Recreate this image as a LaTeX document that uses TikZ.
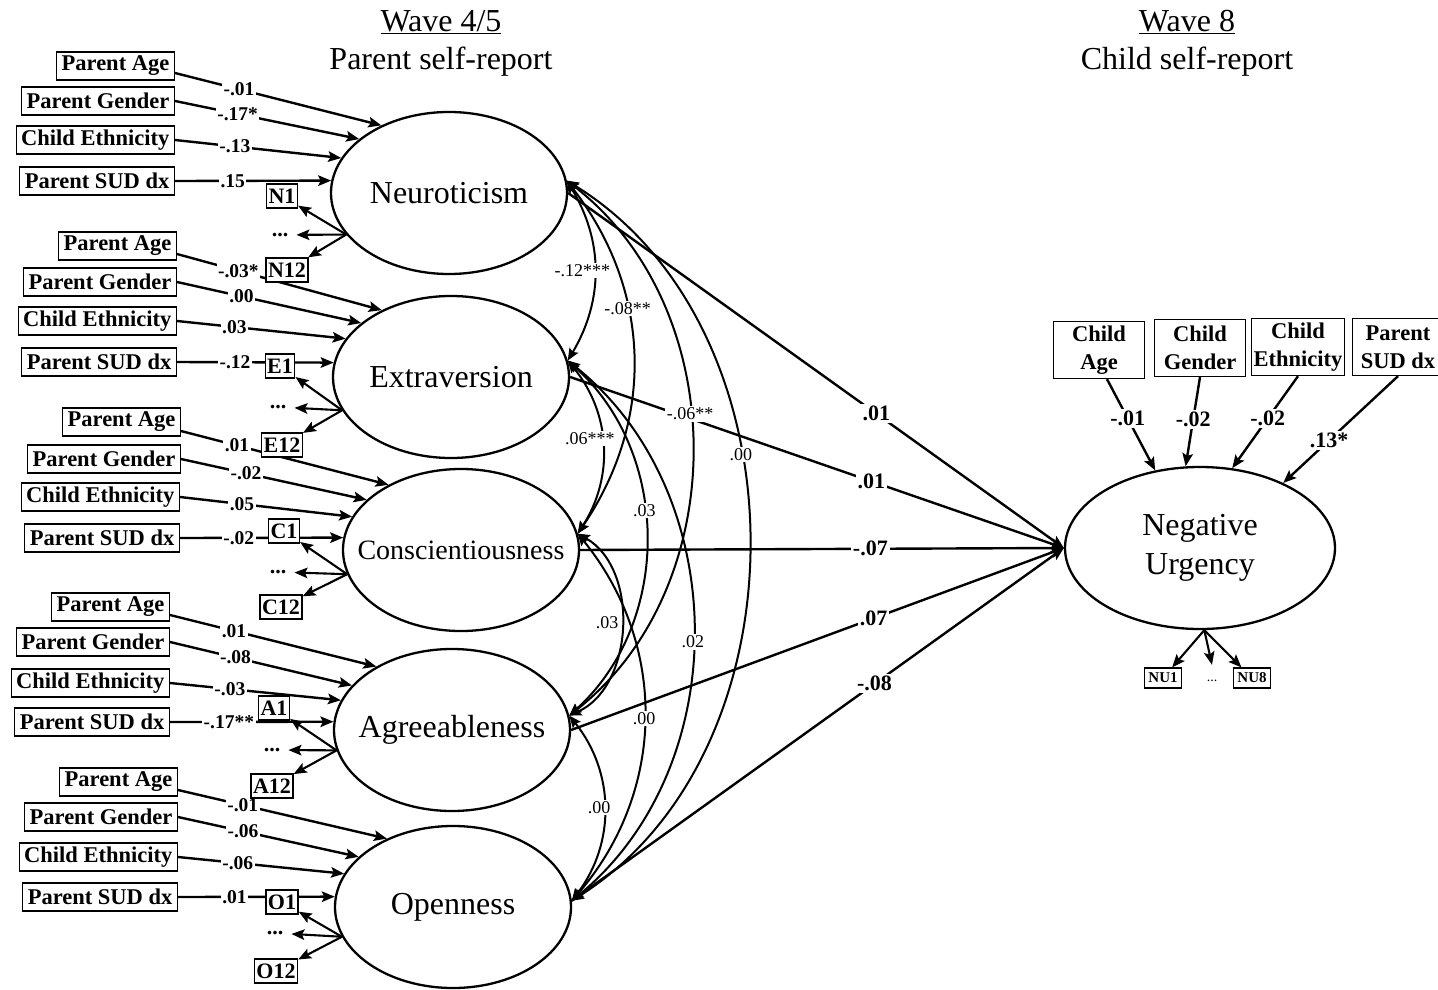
\documentclass[tikz,border=0pt]{standalone}
\usepackage{fontspec}
\setmainfont{Liberation Serif}
\usetikzlibrary{shapes.geometric,arrows.meta}
\begin{document}
\begin{tikzpicture}[x=1pt,y=-1pt,
  >={Stealth[length=13pt,width=10.5pt,inset=2.5pt]},
  trait/.style={ellipse,draw,line width=2.3pt,inner sep=0pt,minimum width=236pt,minimum height=162pt,font=\fontsize{32}{36}\selectfont},
  cov/.style={draw,line width=1.3pt,fill=white,anchor=east,inner xsep=5pt,inner ysep=0pt,minimum height=28pt,font=\fontsize{22.5}{26}\selectfont\bfseries},
  ind/.style={draw,line width=1.3pt,fill=white,inner xsep=2pt,inner ysep=0pt,minimum height=24pt,font=\fontsize{22}{24}\selectfont\bfseries},
  dotn/.style={inner xsep=8pt,inner ysep=2pt,font=\fontsize{22}{24}\selectfont\bfseries},
  reg/.style={line width=2.4pt,->},
  ireg/.style={line width=2.1pt,->},
  plab/.style={fill=white,inner sep=1.5pt,font=\fontsize{19.5}{22}\selectfont\bfseries},
  nlab/.style={fill=white,inner sep=2pt,font=\fontsize{22}{24}\selectfont\bfseries},
  cv/.style={line width=2pt,{Stealth[length=12pt,width=10pt,inset=2pt]}-{Stealth[length=12pt,width=10pt,inset=2pt]}},
  alab/.style={fill=white,inner sep=1.5pt,font=\fontsize{18}{20}\selectfont},
  cbox/.style={draw,line width=1.3pt,align=center,inner xsep=2pt,inner ysep=0pt,minimum width=91pt,minimum height=57pt,font=\fontsize{22.5}{28}\selectfont\bfseries},
  nind/.style={draw,line width=1.2pt,inner xsep=4pt,inner ysep=0pt,minimum height=20pt,font=\fontsize{15}{17}\selectfont\bfseries},
  head/.style={font=\fontsize{32}{36}\selectfont}
]
\useasboundingbox (0,0) rectangle (1438,990);
\fill[white] (0,0) rectangle (1438,990);

% column headings
\node[head] (w45) at (441,22) {\underline{Wave 4/5}};
\node[head] (p45) at (441,62) {Parent self-report};
\node[head] (w8) at (1187,22) {\underline{Wave 8}};
\node[head] (c8) at (1187,62) {Child self-report};

% latent traits
\node[trait] (N) at (449,193) {\makebox[0pt]{Neuroticism}};
\node[trait] (E) at (451,377) {\makebox[0pt]{Extraversion}};
\node[trait,font=\fontsize{28}{32}\selectfont] (C) at (461,550) {\makebox[0pt]{Conscientiousness}};
\node[trait] (A) at (452,730) {\makebox[0pt]{Agreeableness}};
\node[trait] (O) at (453,907) {\makebox[0pt]{Openness}};
\node[trait,minimum width=270pt,align=center,font=\fontsize{32}{39}\selectfont] (NU) at (1200,548) {Negative\\Urgency};

% covariates of each trait
\node[cov] (nPA) at (175,66) {Parent Age};
\node[cov] (nPG) at (175,101) {Parent Gender};
\node[cov] (nCE) at (175,140) {Child Ethnicity};
\node[cov] (nSD) at (175,181) {Parent SUD dx};

\node[cov] (ePA) at (177,246) {Parent Age};
\node[cov] (ePG) at (177,282) {Parent Gender};
\node[cov] (eCE) at (177,321) {Child Ethnicity};
\node[cov] (eSD) at (177,362) {Parent SUD dx};

\node[cov] (cPA) at (181,422) {Parent Age};
\node[cov] (cPG) at (181,459) {Parent Gender};
\node[cov] (cCE) at (180,497) {Child Ethnicity};
\node[cov] (cSD) at (180,538) {Parent SUD dx};

\node[cov] (aPA) at (170,607) {Parent Age};
\node[cov] (aPG) at (170,642) {Parent Gender};
\node[cov] (aCE) at (170,683) {Child Ethnicity};
\node[cov] (aSD) at (170,722) {Parent SUD dx};

\node[cov] (oPA) at (178,782) {Parent Age};
\node[cov] (oPG) at (178,817) {Parent Gender};
\node[cov] (oCE) at (178,857) {Child Ethnicity};
\node[cov] (oSD) at (178,897) {Parent SUD dx};

% covariate paths
\draw[reg] ([yshift=-7pt]nPA.east) -- node[plab,pos=0.31]{-.01} (N.135);
\draw[reg] (nPG.east) -- node[plab,pos=0.34]{-.17*} (N.149);
\draw[reg] (nCE.east) -- node[plab,pos=0.36]{-.13} (N.162);
\draw[reg] (nSD.east) -- node[plab,pos=0.37]{.15} (N.174);

\draw[reg] ([yshift=-8pt]ePA.east) -- node[plab,pos=0.30]{-.03*} (E.136);
\draw[reg] (ePG.east) -- node[plab,pos=0.35]{.00} (E.149);
\draw[reg] (eCE.east) -- node[plab,pos=0.34]{.03} (E.160);
\draw[reg] (eSD.east) -- node[plab,pos=0.37]{-.12} (E.173);

\draw[reg] ([yshift=-9pt]cPA.east) -- node[plab,pos=0.27]{.01} (C.138);
\draw[reg] (cPG.east) -- node[plab,pos=0.35]{-.02} (C.152);
\draw[reg] (cCE.east) -- node[plab,pos=0.36]{.05} (C.163);
\draw[reg] (cSD.east) -- node[plab,pos=0.36]{-.02} (C.174);

\draw[reg] ([yshift=-8pt]aPA.east) -- node[plab,pos=0.31]{.01} (A.140);
\draw[reg] (aPG.east) -- node[plab,pos=0.36]{-.08} (A.156);
\draw[reg] (aCE.east) -- node[plab,pos=0.35]{-.03} (A.165);
\draw[reg] (aSD.east) -- node[plab,pos=0.36]{-.17**} (A.176);

\draw[reg] ([yshift=-8pt]oPA.east) -- node[plab,pos=0.31]{-.01} (O.134);
\draw[reg] (oPG.east) -- node[plab,pos=0.36]{-.06} (O.152);
\draw[reg] (oCE.east) -- node[plab,pos=0.36]{-.06} (O.163);
\draw[reg] (oSD.east) -- node[plab,pos=0.36]{.01} (O.175);

% indicators of each trait
\node[ind] (N1) at (282,196) {N1};
\node[dotn] (Nd) at (280,235) {...};
\node[ind] (N12) at (287,270) {N12};
\node[ind] (E1) at (280,366) {E1};
\node[dotn] (Ed) at (278,407) {...};
\node[ind] (E12) at (282,445) {E12};
\node[ind] (C1) at (284,531) {C1};
\node[dotn] (Cd) at (278,572) {...};
\node[ind] (C12) at (281,607) {C12};
\node[ind] (A1) at (274,708) {A1};
\node[dotn] (Ad) at (272,750) {...};
\node[ind] (A12) at (272,786) {A12};
\node[ind] (O1) at (282,902) {O1};
\node[dotn] (Od) at (275,933) {...};
\node[ind] (O12) at (276,971) {O12};

\coordinate (No) at (N.202);
\coordinate (Eo) at (E.197);
\coordinate (Co) at (C.192);
\coordinate (Ao) at (A.190);
\coordinate (Oo) at (O.195);
\foreach \t in {N,E,C,A,O}{
  \draw[ireg] (\t o) -- (\t 1);
  \draw[ireg] (\t o) -- (\t d);
  \draw[ireg] (\t o) -- (\t 12);
}

% regressions on negative urgency
\draw[reg] (N.east) -- node[nlab,pos=0.622]{.01} (NU.west);
\draw[reg] (E.east) -- node[nlab,pos=0.61]{.01} (NU.west);
\draw[reg] (C.east) -- node[nlab,pos=0.60]{-.07} (NU.west);
\draw[reg] (A.east) -- node[nlab,pos=0.614]{.07} (NU.west);
\draw[reg] (O.3) -- node[nlab,pos=0.615]{-.08} (NU.west);

% trait covariances
\draw[cv] (N.6) to[bend left=31] node[alab,pos=0.5,xshift=-12pt]{-.12***} (E.8);
\draw[cv] (N.6) to[bend left=36] node[alab,pos=0.37]{-.08**} (C.8);
\draw[cv] (N.6) to[bend left=52] node[alab,pos=0.445]{-.06**} (A.7);
\draw[cv] (N.6) to[bend left=58] node[alab,pos=0.40]{.00} (O.3);
\draw[cv] (E.8) to[bend left=36] node[alab,pos=0.46,xshift=-12pt]{.06***} (C.8);
\draw[cv] (E.8) to[bend left=48] node[alab,pos=0.43]{.03} (A.7);
\draw[cv] (E.8) to[bend left=51] node[alab,pos=0.52]{.02} (O.3);
\draw[cv] (C.8) to[bend left=63] node[alab,pos=0.48,xshift=-14pt]{.03} (A.7);
\draw[cv] (C.8) to[bend left=40] node[alab,pos=0.5]{.00} (O.3);
\draw[cv] (A.7) to[bend left=38] node[alab,pos=0.5,xshift=-5pt]{.00} (O.3);

% wave 8 covariates
\node[cbox] (kA) at (1099,350) {Child\\Age};
\node[cbox] (kG) at (1200,348) {Child\\Gender};
\node[cbox] (kE) at (1298,347) {Child\\Ethnicity};
\node[cbox] (kS) at (1398,347) {Parent\\SUD dx};
\draw[reg] ([xshift=8pt]kA.south) -- node[nlab,pos=0.43]{-.01} (NU.120);
\draw[reg] (kG.south) -- node[nlab,pos=0.47]{-.02} (NU.100);
\draw[reg] (kE.south) -- node[nlab,pos=0.46]{-.02} (NU.68);
\draw[reg] (kS.south) -- node[nlab,pos=0.6]{.13*} (NU.38);

% negative urgency indicators
\coordinate (NUo) at (NU.273);
\node[nind] (NU1) at (1163,678) {NU1};
\node[minimum height=32pt,inner sep=0pt,font=\fontsize{14}{16}\selectfont] (NUd) at (1212,681) {...};
\node[nind] (NU8) at (1252,678) {NU8};
\draw[ireg] (NUo) -- (NU1);
\draw[ireg] (NUo) -- (NUd.north);
\draw[ireg] (NUo) -- (NU8);
\end{tikzpicture}
\end{document}
